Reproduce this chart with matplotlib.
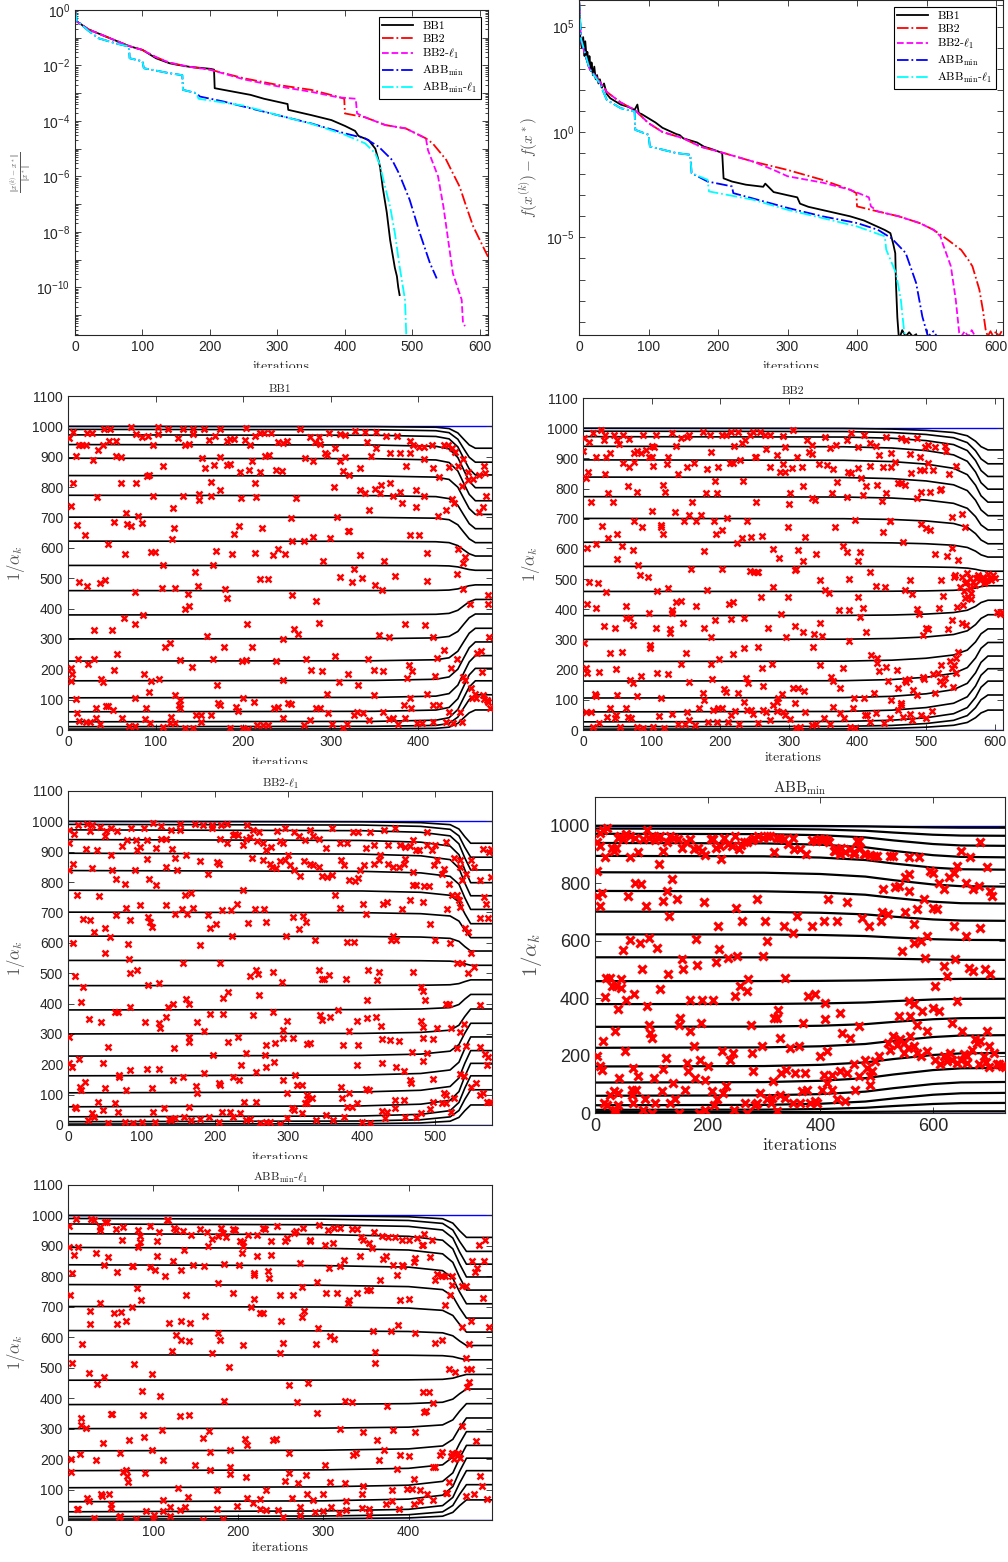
import numpy as np
import matplotlib.pyplot as plt
from matplotlib.ticker import LogLocator, NullFormatter
from matplotlib.transforms import Bbox, TransformedBbox

plt.rcParams['font.family'] = 'Liberation Sans'
plt.rcParams['mathtext.fontset'] = 'cm'

# ---------------- top row: convergence histories (log10 of the values) ----------------
err_bb1_x = [0, 2, 20, 40, 60, 80, 100, 120, 140, 150, 170, 200, 206, 207, 260, 280, 315, 316, 350, 380,
             400, 415, 420, 435, 445, 449, 452, 456, 462, 467, 474, 477, 479, 481]
err_bb1_e = [0, -0.4, -0.7, -0.9, -1.1, -1.3, -1.44, -1.74, -1.92, -1.97, -2.05, -2.12, -2.15, -2.82, -3.06,
             -3.2, -3.39, -3.6, -3.79, -3.97, -4.18, -4.36, -4.54, -4.69, -5.0, -5.35, -5.65, -6.4, -7.3, -8.3,
             -9.3, -9.6, -10.0, -10.28]
err_bb2_x = [0, 2, 20, 40, 60, 80, 100, 120, 140, 170, 200, 250, 300, 350, 390, 399, 400, 430, 460, 490, 500,
             520, 530, 550, 560, 570, 580, 590, 600, 612]
err_bb2_e = [0, -0.4, -0.7, -0.9, -1.1, -1.3, -1.44, -1.7, -1.9, -2.05, -2.15, -2.46, -2.7, -2.88, -3.13, -3.2,
             -3.73, -3.87, -4.15, -4.27, -4.39, -4.63, -4.81, -5.4, -5.89, -6.37, -7.1, -7.8, -8.3, -8.9]
err_bb2l1_x = [0, 2, 20, 40, 60, 80, 100, 120, 140, 170, 200, 250, 300, 350, 390, 416, 418, 430, 460, 490,
               500, 520, 523, 538, 546, 553, 560, 573, 575, 578]
err_bb2l1_e = [0, -0.4, -0.7, -0.9, -1.1, -1.3, -1.44, -1.7, -1.9, -2.05, -2.15, -2.5, -2.75, -2.95, -3.15,
               -3.2, -3.73, -3.87, -4.15, -4.27, -4.39, -4.63, -5.05, -6.0, -7.1, -8.3, -9.5, -10.45, -11.3, -11.4]
err_abb_x = [0, 3, 20, 35, 60, 80, 81, 100, 102, 140, 159, 160, 180, 185, 220, 300, 350, 400, 430, 450, 470,
             480, 496, 511, 526, 536]
err_abb_e = [0, -0.4, -0.75, -1.02, -1.2, -1.32, -1.74, -1.85, -2.1, -2.28, -2.35, -2.88, -3.0, -3.12, -3.3,
             -3.79, -4.09, -4.45, -4.63, -4.93, -5.41, -5.89, -6.85, -8.05, -9.13, -9.68]
err_abbl1_x = [0, 3, 20, 35, 60, 80, 81, 100, 102, 140, 159, 160, 180, 183, 250, 300, 350, 400, 430, 445, 452,
               457, 467, 474, 481, 489, 491]
err_abbl1_e = [0, -0.4, -0.75, -1.02, -1.2, -1.32, -1.74, -1.85, -2.1, -2.28, -2.35, -2.88, -3.0, -3.2, -3.45,
               -3.79, -4.1, -4.5, -4.81, -5.17, -5.6, -6.13, -7.1, -8.05, -9.25, -10.45, -11.8]

f_bb1_x = [0, 2, 4, 6, 8, 9, 11, 12, 14, 15, 17, 18, 20, 22, 24, 26, 28, 30, 33, 36, 40, 45, 50, 60, 70, 80,
           84, 86, 90, 100, 110, 120, 130, 140, 145, 150, 160, 170, 180, 190, 200, 206, 208, 220, 240, 265, 268,
           280, 300, 314, 318, 330, 350, 370, 390, 410, 430, 440, 448, 452, 455, 456, 458, 460, 462, 465, 470,
           475, 480, 485]
f_bb1_e = [6.3, 4.4, 4.0, 4.5, 3.6, 4.3, 3.5, 3.8, 3.2, 3.6, 2.9, 3.3, 2.7, 3.1, 2.5, 2.7, 2.3, 2.5, 2.1, 2.3,
           1.8, 1.6, 1.5, 1.3, 1.2, 1.05, 1.3, 0.9, 0.85, 0.65, 0.45, 0.2, 0.05, -0.1, -0.15, -0.3, -0.4, -0.5,
           -0.7, -0.8, -0.92, -1.0, -2.2, -2.35, -2.5, -2.6, -2.45, -2.85, -3.0, -3.1, -3.4, -3.55, -3.7, -3.85,
           -4.0, -4.2, -4.5, -4.65, -4.8, -5.3, -5.75, -7.2, -8.8, -9.7, -9.7, -9.4, -9.7, -9.5, -9.7, -9.6]
f_bb2_x = [0, 3, 15, 25, 40, 60, 80, 100, 120, 150, 175, 200, 250, 300, 350, 390, 399, 400, 430, 460, 490, 510,
           530, 550, 560, 566, 576, 581, 585, 588, 592, 596, 600, 604, 608]
f_bb2_e = [6.3, 4.3, 3.0, 2.6, 1.9, 1.4, 1.05, 0.42, 0.0, -0.3, -0.7, -0.92, -1.4, -1.8, -2.27, -2.74, -2.9,
           -3.53, -3.77, -4.0, -4.32, -4.64, -5.1, -5.6, -6.06, -6.37, -7.48, -8.43, -9.37, -9.7, -9.45, -9.7,
           -9.45, -9.7, -9.45]
f_bb2l1_x = [0, 3, 15, 25, 40, 60, 80, 100, 120, 150, 175, 200, 250, 280, 300, 350, 390, 417, 420, 430, 460,
             490, 510, 520, 523, 535, 542, 547, 550, 555, 560, 565, 570]
f_bb2l1_e = [6.3, 4.3, 3.0, 2.6, 1.9, 1.4, 1.05, 0.42, 0.0, -0.3, -0.7, -0.92, -1.4, -1.8, -2.1, -2.4, -2.74,
             -3.1, -3.53, -3.77, -4.0, -4.32, -4.64, -4.95, -5.27, -6.37, -7.95, -9.53, -9.7, -9.45, -9.7, -9.4,
             -9.7]
f_abb_x = [0, 3, 15, 30, 40, 60, 80, 81, 100, 102, 140, 160, 162, 185, 220, 222, 300, 350, 400, 430, 450, 470,
           485, 494, 502, 510, 515]
f_abb_e = [6.3, 4.4, 3.0, 2.3, 1.52, 1.13, 0.97, 0.1, -0.13, -0.69, -1.0, -1.08, -1.95, -2.35, -2.58, -2.9,
           -3.6, -4.0, -4.32, -4.64, -5.05, -5.74, -7.16, -8.76, -9.7, -9.45, -9.7]
f_abbl1_x = [0, 3, 15, 30, 40, 60, 80, 81, 100, 102, 140, 160, 162, 185, 187, 250, 300, 350, 400, 440, 442,
             456, 463, 468, 471]
f_abbl1_e = [6.3, 4.4, 3.0, 2.3, 1.52, 1.13, 0.97, 0.1, -0.13, -0.69, -1.0, -1.08, -1.95, -2.27, -2.82, -3.21,
             -3.69, -4.08, -4.48, -4.95, -5.58, -6.69, -7.95, -9.53, -9.7]

# ---------------- Ritz-like level lines ----------------
levels_start = [1000, 990, 972, 940, 895, 838, 773, 701, 622, 542, 459, 379, 300, 227, 162, 106, 60, 27, 11, 3]
levels_end = [928, 882, 840, 798, 755, 710, 663, 617, 573, 526, 478, 430, 382, 335, 290, 245, 203, 162, 116, 66]
levels_end_abb = [993, 965, 930, 890, 847, 788, 729, 669, 602, 533, 467, 398, 331, 271, 209, 157, 108, 70, 35, 6]

# progress of the level shift along the iterations (0 = start level, 1 = end level)
prog_bb1_x = [0, 350, 420, 435, 445, 452, 458, 465, 484]
prog_bb1_f = [0, 0.01, 0.04, 0.1, 0.3, 0.6, 0.85, 1, 1]
prog_bb2_x = [0, 380, 450, 500, 540, 560, 572, 580, 590, 612]
prog_bb2_f = [0, 0.01, 0.04, 0.1, 0.2, 0.35, 0.6, 0.85, 1, 1]
prog_bb2l1_x = [0, 400, 480, 520, 532, 540, 548, 577]
prog_bb2l1_f = [0, 0.02, 0.06, 0.15, 0.35, 0.7, 1, 1]
prog_abb_x = [0, 300, 400, 480, 530, 600, 650, 728]
prog_abb_f = [0, 0.03, 0.12, 0.3, 0.55, 0.85, 0.97, 1.0]
prog_abbl1_x = [0, 300, 400, 440, 452, 460, 468, 498]
prog_abbl1_f = [0, 0.02, 0.06, 0.15, 0.35, 0.7, 1, 1]

# ---------------- 1/alpha_k per iteration (iteration, value) ----------------
bb1_pts = [
    (48, 991), (41, 991), (72, 997), (103, 997), (114, 991), (131, 991), (143, 991), (155, 991), (203, 994),
    (265, 991), (328, 986), (339, 982), (352, 982), (6, 980), (22, 978), (27, 978), (103, 975), (173, 991),
    (219, 978), (232, 978), (298, 978), (310, 975), (316, 970), (1, 961), (55, 953), (78, 975), (85, 964),
    (91, 969), (97, 939), (13, 939), (16, 939), (20, 937), (40, 939), (47, 953), (125, 961), (133, 939),
    (138, 942), (143, 975), (161, 955), (168, 969), (181, 953), (185, 958), (190, 958), (202, 955), (208, 939),
    (214, 969), (224, 978), (240, 947), (245, 945), (250, 953), (276, 964), (282, 947), (287, 964), (288, 942),
    (305, 928), (341, 947), (352, 928), (363, 969), (375, 969), (390, 953), (394, 937), (401, 931), (406, 931),
    (416, 939), (429, 937), (434, 939), (438, 928), (442, 915), (9, 904), (29, 889), (34, 923), (55, 901),
    (61, 898), (90, 838), (92, 841), (109, 869), (153, 895), (156, 862), (167, 873), (174, 898), (181, 874),
    (185, 876), (196, 851), (207, 857), (210, 887), (219, 851), (225, 901), (230, 907), (237, 857), (270, 895),
    (280, 887), (293, 912), (296, 907), (310, 886), (314, 854), (316, 900), (321, 840), (333, 863), (346, 904),
    (368, 912), (379, 911), (386, 871), (390, 911), (406, 893), (417, 863), (424, 832), (435, 867), (445, 868),
    (451, 893), (457, 849), (462, 827), (469, 840), (475, 868), (476, 846), (3, 739), (6, 814), (33, 766),
    (60, 814), (66, 715), (67, 679), (72, 671), (78, 814), (80, 706), (84, 681), (97, 772), (120, 731),
    (121, 665), (131, 772), (150, 756), (150, 778), (163, 816), (163, 772), (173, 792), (189, 644), (195, 671),
    (197, 765), (213, 814), (215, 767), (221, 665), (244, 854), (254, 698), (260, 765), (304, 800), (307, 703),
    (321, 654), (333, 792), (339, 781), (344, 723), (350, 794), (356, 782), (357, 807), (368, 814), (371, 772),
    (379, 783), (381, 748), (397, 734), (397, 792), (406, 772), (422, 704), (432, 723), (438, 761), (441, 748),
    (450, 803), (457, 825), (469, 717), (474, 734), (477, 770), (10, 676), (19, 643), (46, 613), (53, 685),
    (65, 580), (95, 586), (99, 586), (108, 545), (119, 630), (166, 544), (169, 591), (187, 580), (213, 584),
    (219, 496), (228, 496), (234, 575), (240, 595), (248, 580), (256, 624), (269, 621), (280, 637), (291, 557),
    (299, 632), (311, 504), (320, 654), (324, 487), (327, 531), (333, 577), (336, 500), (361, 558), (373, 506),
    (390, 643), (401, 643), (410, 584), (410, 490), (445, 597), (444, 513), (451, 551), (453, 570), (13, 487),
    (22, 473), (36, 485), (42, 493), (64, 369), (76, 348), (77, 455), (86, 380), (30, 329), (50, 329),
    (107, 469), (122, 468), (133, 398), (138, 407), (137, 449), (145, 520), (148, 474), (159, 310), (179, 465),
    (182, 435), (204, 350), (245, 301), (256, 446), (258, 332), (262, 315), (283, 425), (286, 354), (350, 479),
    (355, 312), (358, 460), (366, 307), (385, 350), (408, 345), (417, 307), (451, 465), (459, 416), (480, 444),
    (479, 416), (481, 307), (3, 203), (5, 183), (3, 161), (9, 102), (11, 233), (23, 219), (30, 233), (38, 168),
    (40, 159), (52, 197), (56, 249), (76, 104), (87, 186), (93, 126), (95, 161), (104, 169), (111, 274),
    (116, 285), (122, 115), (128, 99), (128, 230), (141, 208), (166, 233), (170, 148), (178, 274), (199, 227),
    (203, 230), (200, 106), (210, 274), (212, 93), (237, 227), (245, 164), (272, 233), (277, 197), (290, 194),
    (296, 120), (305, 244), (309, 159), (320, 186), (331, 148), (343, 233), (349, 197), (349, 115), (360, 194),
    (387, 170), (389, 214), (393, 194), (390, 104), (410, 120), (421, 238), (419, 179), (429, 263), (437, 203),
    (444, 235), (451, 175), (453, 164), (460, 137), (465, 120), (467, 252), (471, 260), (473, 192), (474, 115),
    (475, 102), (480, 91), (10, 55), (13, 30), (21, 27), (25, 27), (32, 71), (32, 38), (37, 19), (43, 80),
    (46, 80), (51, 66), (62, 38), (70, 14), (76, 14), (88, 36), (89, 71), (94, 22), (109, 11), (116, 22),
    (118, 44), (122, 22), (128, 71), (127, 82), (134, 5), (143, 8), (152, 27), (146, 51), (152, 51), (163, 51),
    (171, 88), (174, 82), (185, 8), (192, 77), (194, 62), (200, 8), (206, 3), (216, 16), (223, 16), (228, 16),
    (235, 71), (240, 77), (245, 38), (251, 88), (254, 84), (269, 16), (276, 33), (283, 71), (288, 71), (297, 55),
    (301, 19), (314, 5), (318, 19), (326, 49), (330, 60), (337, 55), (344, 33), (360, 60), (366, 36), (371, 38),
    (377, 19), (383, 82), (385, 38), (392, 71), (398, 22), (404, 22), (417, 82), (417, 27), (424, 82), (432, 27),
    (435, 60), (440, 22), (448, 60), (450, 27), (461, 104), (466, 104), (478, 99), (482, 71)]

bb2_pts = [
    (0, 925), (2, 969), (9, 953), (15, 983), (26, 994), (32, 978), (30, 961), (45, 978), (49, 961), (53, 947),
    (59, 978), (67, 963), (79, 923), (74, 917), (87, 978), (92, 928), (96, 906), (101, 941), (104, 936),
    (107, 978), (124, 906), (129, 983), (135, 941), (143, 969), (151, 972), (155, 978), (175, 989), (185, 978),
    (186, 920), (202, 978), (209, 978), (215, 987), (219, 886), (226, 987), (220, 941), (231, 950), (236, 961),
    (243, 978), (248, 987), (250, 903), (258, 987), (265, 978), (266, 932), (272, 976), (282, 911), (292, 975),
    (295, 939), (306, 994), (312, 903), (326, 961), (329, 920), (333, 945), (334, 914), (352, 972), (360, 934),
    (369, 945), (384, 961), (391, 983), (400, 936), (410, 978), (418, 950), (427, 941), (432, 911), (441, 972),
    (449, 917), (464, 967), (470, 961), (486, 967), (491, 903), (498, 939), (503, 945), (513, 939), (527, 941),
    (529, 925), (7, 856), (19, 906), (33, 906), (32, 848), (39, 917), (59, 884), (67, 870), (74, 887),
    (85, 917), (100, 906), (102, 876), (122, 881), (138, 848), (151, 873), (162, 884), (180, 864), (197, 870),
    (214, 884), (229, 895), (252, 903), (272, 873), (287, 854), (292, 881), (305, 867), (319, 871), (344, 881),
    (355, 878), (364, 865), (386, 854), (391, 851), (401, 867), (405, 834), (418, 876), (429, 812), (437, 870),
    (449, 870), (454, 887), (464, 818), (477, 914), (478, 851), (491, 862), (497, 862), (503, 884), (510, 862),
    (522, 799), (534, 848), (543, 876), (4, 836), (12, 757), (36, 784), (43, 754), (66, 810), (79, 790),
    (74, 691), (86, 674), (100, 724), (117, 812), (120, 788), (134, 722), (147, 693), (155, 711), (159, 757),
    (165, 693), (172, 713), (179, 785), (191, 691), (195, 785), (192, 825), (210, 704), (233, 825), (239, 691),
    (252, 757), (294, 854), (300, 748), (301, 785), (320, 810), (333, 768), (338, 761), (363, 785), (370, 821),
    (384, 773), (397, 696), (408, 779), (413, 809), (436, 759), (442, 785), (448, 691), (459, 818), (469, 812),
    (486, 768), (493, 790), (505, 790), (520, 796), (538, 707), (552, 715), (556, 674), (6, 602), (9, 490),
    (19, 615), (27, 677), (36, 635), (50, 649), (57, 611), (50, 566), (73, 597), (80, 547), (83, 514),
    (95, 508), (113, 680), (114, 671), (117, 649), (177, 593), (194, 649), (202, 663), (202, 533), (224, 619),
    (231, 635), (245, 638), (244, 527), (255, 525), (261, 643), (277, 599), (286, 569), (299, 671), (311, 533),
    (313, 597), (320, 561), (324, 638), (340, 582), (345, 497), (367, 674), (379, 608), (385, 591), (387, 501),
    (401, 560), (404, 591), (418, 525), (427, 477), (437, 657), (447, 691), (466, 624), (476, 497), (492, 682),
    (500, 669), (505, 663), (513, 582), (522, 497), (530, 575), (537, 604), (542, 514), (547, 564), (552, 508),
    (556, 486), (549, 475), (559, 519), (564, 503), (569, 492), (573, 503), (578, 497), (583, 508), (588, 497),
    (593, 503), (597, 514), (585, 486), (571, 481), (564, 470), (566, 453), (561, 442), (566, 434), (556, 436),
    (553, 414), (545, 409), (600, 505), (590, 516), (576, 514), (559, 492), (555, 459), (580, 500), (586, 493),
    (575, 507), (595, 497), (603, 390), (607, 383), (610, 390), (6, 417), (22, 488), (19, 403), (33, 456),
    (31, 346), (46, 337), (63, 412), (63, 370), (69, 372), (73, 348), (96, 387), (108, 459), (107, 337),
    (124, 470), (129, 387), (130, 398), (136, 425), (143, 429), (146, 354), (157, 534), (164, 412), (176, 339),
    (181, 464), (192, 365), (186, 309), (213, 417), (215, 368), (219, 423), (234, 372), (249, 525), (254, 523),
    (260, 440), (270, 337), (277, 475), (289, 383), (296, 309), (299, 442), (309, 530), (309, 343), (320, 324),
    (336, 317), (335, 276), (345, 354), (348, 313), (352, 464), (359, 453), (373, 398), (388, 295), (388, 398),
    (401, 442), (404, 376), (408, 403), (413, 326), (440, 474), (469, 464), (479, 450), (486, 401), (490, 383),
    (495, 315), (500, 337), (503, 334), (519, 403), (524, 445), (532, 334), (537, 365), (552, 354), (558, 348),
    (541, 508), (2, 287), (4, 207), (6, 190), (17, 118), (19, 114), (23, 193), (39, 254), (48, 202), (50, 116),
    (57, 260), (69, 166), (73, 155), (79, 114), (85, 179), (97, 271), (98, 282), (108, 188), (114, 107),
    (124, 185), (127, 320), (127, 335), (143, 218), (150, 254), (155, 160), (175, 122), (177, 99), (187, 218),
    (188, 169), (198, 235), (205, 136), (208, 127), (219, 251), (226, 122), (234, 271), (238, 173), (240, 155),
    (255, 274), (261, 204), (263, 146), (275, 218), (277, 83), (282, 94), (284, 107), (290, 118), (306, 138),
    (309, 88), (314, 140), (322, 129), (345, 215), (362, 177), (364, 162), (374, 138), (379, 204), (395, 107),
    (409, 107), (419, 249), (424, 122), (428, 221), (429, 240), (432, 196), (442, 210), (444, 162), (449, 99),
    (457, 199), (459, 138), (463, 88), (469, 166), (471, 158), (475, 169), (481, 133), (486, 116), (495, 177),
    (497, 169), (510, 185), (513, 122), (517, 188), (520, 162), (522, 215), (525, 151), (528, 173), (535, 229),
    (537, 204), (540, 215), (544, 238), (546, 260), (539, 144), (544, 188), (4, 61), (11, 59), (14, 11),
    (24, 22), (35, 44), (39, 74), (46, 39), (48, 50), (54, 11), (62, 72), (66, 44), (70, 41), (78, 11), (88, 6),
    (102, 11), (111, 48), (118, 8), (130, 52), (138, 19), (148, 19), (151, 61), (155, 33), (163, 17), (169, 72),
    (182, 25), (190, 66), (195, 25), (197, 72), (202, 72), (211, 28), (215, 50), (221, 63), (227, 19), (234, 92),
    (239, 66), (245, 66), (248, 52), (255, 22), (262, 66), (267, 61), (273, 33), (282, 63), (292, 61), (295, 50),
    (301, 36), (310, 6), (316, 11), (323, 61), (333, 17), (340, 19), (351, 39), (360, 19), (364, 77), (375, 55),
    (381, 39), (389, 11), (393, 72), (397, 6), (411, 50), (414, 50), (418, 28), (427, 55), (438, 22), (447, 39),
    (459, 66), (464, 83), (467, 44), (477, 52), (480, 33), (492, 50), (500, 41), (509, 63)]

bb2l1_pts = [
    (1, 929), (1, 973), (8, 957), (14, 987), (26, 992), (30, 968), (32, 987), (44, 981), (52, 967), (51, 951),
    (59, 979), (67, 967), (74, 918), (80, 937), (86, 979), (92, 937), (98, 916), (104, 979), (107, 937),
    (115, 996), (120, 913), (127, 985), (127, 943), (134, 943), (140, 973), (141, 910), (152, 992), (152, 973),
    (173, 992), (184, 987), (196, 987), (196, 979), (208, 987), (216, 992), (207, 943), (217, 929), (224, 954),
    (227, 957), (232, 954), (238, 921), (242, 943), (244, 987), (248, 948), (252, 973), (257, 934), (260, 965),
    (265, 929), (270, 907), (276, 916), (284, 967), (289, 934), (295, 979), (292, 929), (300, 888), (308, 965),
    (315, 951), (323, 937), (329, 973), (334, 951), (341, 943), (351, 912), (359, 979), (370, 929), (380, 929),
    (388, 965), (395, 965), (405, 912), (411, 965), (416, 921), (425, 888), (430, 970), (436, 921), (445, 979),
    (452, 921), (459, 916), (466, 918), (470, 937), (473, 905), (477, 907), (489, 965), (489, 923), (495, 905),
    (500, 921), (514, 932), (2, 841), (7, 859), (33, 848), (24, 910), (39, 905), (58, 888), (60, 841), (65, 811),
    (77, 793), (91, 841), (94, 905), (107, 877), (110, 811), (120, 789), (133, 850), (145, 880), (148, 841),
    (160, 888), (179, 870), (191, 828), (203, 866), (205, 859), (251, 880), (265, 872), (275, 861), (278, 850),
    (283, 846), (288, 870), (295, 874), (302, 855), (307, 839), (316, 819), (321, 870), (330, 861), (334, 855),
    (342, 850), (345, 819), (352, 817), (359, 822), (372, 874), (375, 855), (383, 808), (390, 804), (395, 812),
    (398, 841), (403, 857), (416, 859), (423, 872), (436, 859), (442, 850), (450, 850), (457, 861), (459, 877),
    (470, 833), (473, 789), (484, 786), (491, 786), (498, 857), (502, 872), (509, 828), (511, 844), (518, 795),
    (525, 880), (533, 874), (534, 850), (536, 806), (541, 828), (548, 872), (552, 850), (561, 806), (565, 910),
    (575, 910), (573, 899), (575, 817), (12, 757), (30, 674), (21, 680), (35, 636), (42, 753), (51, 650),
    (66, 691), (79, 716), (82, 595), (85, 674), (98, 724), (109, 685), (112, 669), (114, 652), (133, 724),
    (145, 696), (155, 713), (159, 757), (162, 694), (167, 764), (170, 716), (179, 592), (190, 691), (193, 650),
    (202, 663), (210, 707), (222, 709), (223, 622), (230, 729), (238, 775), (245, 666), (254, 713), (267, 713),
    (270, 669), (297, 622), (306, 685), (314, 647), (320, 688), (324, 669), (336, 609), (364, 757), (370, 716),
    (380, 603), (389, 603), (402, 727), (406, 694), (429, 727), (434, 735), (439, 609), (442, 622), (447, 609),
    (455, 713), (465, 740), (470, 789), (483, 735), (493, 663), (500, 609), (516, 713), (520, 600), (523, 757),
    (529, 757), (532, 740), (534, 718), (540, 650), (544, 636), (561, 683), (566, 751), (569, 729), (572, 683),
    (7, 601), (9, 490), (18, 406), (21, 455), (51, 567), (57, 620), (83, 548), (84, 502), (94, 510), (109, 461),
    (124, 469), (136, 387), (143, 400), (156, 534), (161, 414), (164, 400), (207, 534), (211, 417), (218, 439),
    (247, 490), (256, 512), (258, 497), (260, 428), (279, 504), (291, 471), (341, 512), (345, 482), (349, 480),
    (355, 493), (378, 482), (408, 510), (420, 479), (423, 504), (407, 413), (470, 504), (480, 455), (483, 442),
    (486, 413), (514, 400), (518, 400), (530, 534), (536, 534), (544, 499), (548, 565), (552, 521), (560, 394),
    (2, 291), (29, 348), (45, 340), (55, 258), (64, 373), (68, 373), (84, 389), (105, 340), (124, 337),
    (125, 320), (134, 356), (144, 252), (164, 291), (165, 274), (176, 340), (185, 310), (193, 367), (198, 230),
    (211, 367), (218, 274), (232, 291), (242, 236), (252, 362), (268, 232), (270, 265), (279, 373), (282, 271),
    (298, 343), (293, 312), (292, 285), (306, 285), (325, 266), (330, 271), (343, 362), (345, 345), (356, 356),
    (367, 378), (374, 263), (383, 310), (393, 343), (394, 263), (407, 351), (419, 356), (426, 326), (427, 282),
    (438, 280), (450, 277), (468, 241), (480, 343), (483, 323), (483, 285), (488, 238), (497, 282), (502, 318),
    (521, 318), (533, 307), (539, 334), (529, 252), (541, 260), (560, 258), (568, 234), (571, 225), (2, 205),
    (5, 192), (15, 216), (16, 126), (18, 115), (23, 143), (47, 203), (51, 121), (70, 164), (70, 157), (79, 115),
    (84, 181), (107, 186), (114, 121), (124, 186), (143, 148), (156, 159), (174, 128), (175, 104), (185, 170),
    (205, 137), (207, 132), (225, 157), (233, 148), (235, 197), (256, 175), (270, 192), (280, 208), (293, 148),
    (298, 104), (309, 164), (312, 132), (318, 132), (325, 99), (327, 90), (332, 88), (373, 88), (371, 126),
    (382, 104), (393, 197), (406, 117), (409, 115), (427, 205), (447, 192), (457, 178), (465, 148), (467, 137),
    (483, 212), (497, 150), (511, 104), (515, 99), (533, 168), (539, 161), (548, 126), (555, 137), (560, 99),
    (570, 197), (565, 104), (570, 77), (574, 77), (10, 60), (11, 55), (27, 16), (33, 38), (36, 27), (41, 77),
    (47, 49), (55, 5), (64, 73), (68, 44), (77, 11), (89, 8), (101, 11), (115, 44), (118, 11), (130, 55),
    (138, 19), (140, 16), (145, 22), (158, 27), (164, 58), (168, 16), (180, 19), (192, 27), (205, 11), (210, 44),
    (220, 44), (225, 27), (234, 38), (239, 77), (242, 16), (248, 19), (256, 77), (261, 8), (270, 11), (275, 11),
    (289, 3), (298, 22), (305, 55), (308, 49), (318, 38), (323, 71), (325, 71), (338, 16), (351, 33), (361, 16),
    (375, 27), (380, 60), (386, 58), (393, 71), (400, 11), (411, 5), (427, 47), (434, 44), (432, 22), (445, 82),
    (445, 55), (457, 82), (459, 27), (473, 27), (480, 38), (493, 52), (497, 77), (509, 73), (514, 71), (521, 44),
    (525, 88)]

abb_pts = [
    (3, 942), (8, 930), (9, 974), (15, 986), (21, 991), (18, 890), (30, 924), (34, 913), (37, 921), (40, 956),
    (44, 965), (49, 953), (55, 971), (62, 965), (71, 959), (77, 909), (86, 953), (92, 986), (95, 956),
    (101, 965), (107, 950), (111, 959), (116, 965), (121, 913), (127, 944), (133, 965), (140, 959), (148, 953),
    (154, 924), (162, 944), (169, 953), (175, 919), (182, 921), (190, 913), (196, 898), (206, 953), (210, 953),
    (215, 921), (222, 930), (229, 959), (237, 936), (243, 930), (249, 965), (255, 919), (259, 933), (264, 944),
    (270, 942), (278, 951), (283, 956), (290, 965), (299, 959), (305, 965), (311, 965), (318, 907), (323, 959),
    (329, 956), (335, 953), (342, 936), (351, 959), (354, 919), (364, 919), (375, 901), (385, 951), (393, 948),
    (400, 953), (406, 953), (415, 944), (424, 913), (430, 919), (437, 921), (444, 907), (453, 919), (460, 901),
    (466, 948), (471, 924), (480, 901), (489, 898), (501, 895), (529, 893), (557, 890), (412, 949), (468, 948),
    (427, 913), (435, 901), (459, 907), (477, 901), (495, 895), (524, 895), (575, 890), (649, 913), (666, 890),
    (684, 944), (696, 855), (643, 860), (595, 843), (601, 837), (628, 820), (637, 837), (658, 802), (672, 779),
    (681, 791), (702, 773), (705, 756), (619, 779), (610, 802), (557, 831), (551, 820), (557, 773), (512, 779),
    (533, 785), (539, 791), (584, 744), (601, 715), (607, 709), (572, 709), (566, 657), (551, 698), (521, 692),
    (507, 669), (486, 651), (474, 680), (447, 733), (413, 744), (407, 669), (430, 669), (509, 698), (589, 616),
    (637, 651), (658, 616), (684, 645), (545, 564), (578, 599), (566, 593), (640, 535), (664, 506), (672, 494),
    (693, 500), (702, 483), (619, 512), (625, 477), (604, 442), (586, 541), (557, 390), (566, 378), (580, 355),
    (601, 366), (610, 355), (643, 390), (539, 337), (560, 337), (572, 308), (634, 314), (435, 349), (409, 326),
    (438, 279), (453, 262), (468, 302), (530, 267), (542, 256), (560, 267), (589, 285), (652, 285), (696, 285),
    (684, 250), (675, 256), (619, 198), (634, 186), (649, 186), (660, 198), (669, 221), (678, 244), (690, 198),
    (699, 233), (708, 209), (723, 165), (714, 169), (681, 169), (660, 174), (643, 174), (625, 180), (613, 169),
    (604, 186), (578, 198), (572, 209), (566, 233), (548, 209), (548, 244), (536, 238), (524, 221), (521, 244),
    (504, 198), (498, 180), (483, 157), (468, 128), (489, 128), (492, 145), (480, 186), (459, 169), (447, 140),
    (435, 145), (421, 134), (412, 105), (421, 81), (430, 47), (444, 41), (462, 81), (489, 99), (695, 176),
    (700, 160), (717, 170), (728, 160), (655, 205), (630, 210), (590, 215), (555, 225), (3, 843), (4, 756),
    (8, 721), (12, 767), (3, 198), (9, 163), (12, 151), (15, 250), (16, 35), (21, 29), (18, 405), (20, 471),
    (27, 471), (27, 64), (33, 76), (36, 12), (36, 0), (41, 70), (40, 29), (43, 122), (36, 285), (37, 442),
    (31, 442), (46, 436), (41, 363), (46, 467), (49, 566), (53, 217), (55, 395), (59, 756), (62, 602), (63, 890),
    (65, 64), (65, 81), (67, 157), (68, 35), (69, 413), (71, 802), (72, 81), (77, 128), (80, 593), (81, 797),
    (83, 502), (86, 12), (89, 47), (90, 721), (92, 372), (95, 610), (96, 308), (98, 279), (101, 262), (104, 122),
    (107, 35), (110, 576), (113, 866), (116, 430), (119, 76), (121, 153), (121, 738), (126, 192), (127, 773),
    (130, 483), (132, 686), (134, 35), (136, 814), (139, 105), (142, 47), (145, 744), (150, 308), (151, 331),
    (154, 535), (157, 500), (160, 81), (163, 174), (166, 145), (168, 285), (169, 395), (175, 233), (178, 122),
    (180, 607), (181, 514), (187, 186), (188, 314), (190, 395), (193, 733), (196, 116), (201, 163), (207, 76),
    (210, 395), (215, 526), (217, 47), (219, 651), (221, 570), (223, 884), (225, 215), (227, 70), (233, 93),
    (237, 541), (239, 186), (245, 209), (249, 407), (251, 715), (253, 547), (258, 442), (261, 669), (267, 35),
    (270, 424), (272, 465), (277, 308), (279, 209), (281, 145), (284, 29), (287, 744), (293, 70), (296, 233),
    (299, 547), (302, 669), (305, 599), (312, 35), (314, 52), (316, 110), (317, 331), (323, 331), (325, 360),
    (329, 262), (330, 140), (335, 651), (338, 471), (339, 151), (347, 227), (351, 628), (355, 140), (358, 686),
    (363, 233), (370, 314), (372, 140), (376, 81), (379, 407), (385, 651), (391, 413), (394, 35), (399, 198),
    (403, 81), (406, 134), (409, 384), (412, 215), (101, 0), (150, 0), (196, 12), (211, 29), (246, 12),
    (270, 0), (287, 35), (305, 47), (323, 6), (338, 52), (352, 35), (364, 35), (382, 35), (391, 41), (367, 76),
    (329, 64), (184, 0)]

abbl1_pts = [
    (1, 965), (1, 897), (9, 989), (12, 897), (27, 989), (30, 985), (37, 952), (38, 962), (44, 978), (46, 978),
    (56, 956), (64, 919), (65, 963), (82, 952), (84, 934), (96, 965), (107, 945), (116, 984), (118, 984),
    (124, 959), (127, 952), (135, 948), (145, 937), (155, 954), (163, 945), (169, 924), (176, 934), (180, 959),
    (182, 943), (186, 930), (194, 954), (196, 952), (202, 915), (205, 912), (212, 937), (222, 937), (229, 959),
    (231, 954), (238, 915), (245, 965), (255, 915), (257, 926), (265, 943), (268, 948), (276, 959), (284, 915),
    (295, 970), (302, 904), (305, 952), (311, 910), (313, 959), (320, 959), (333, 956), (340, 956), (344, 930),
    (347, 919), (357, 893), (359, 945), (369, 934), (376, 930), (384, 930), (392, 921), (401, 919), (410, 926),
    (418, 940), (417, 904), (427, 918), (7, 871), (5, 811), (33, 877), (42, 838), (47, 864), (57, 814),
    (75, 833), (76, 833), (82, 897), (84, 912), (96, 831), (102, 820), (104, 866), (105, 915), (114, 800),
    (123, 849), (133, 822), (136, 886), (147, 838), (160, 833), (165, 901), (183, 842), (201, 838), (204, 877),
    (206, 899), (218, 811), (222, 866), (238, 871), (235, 819), (236, 795), (273, 844), (284, 919), (306, 827),
    (320, 833), (324, 853), (343, 868), (353, 908), (366, 789), (370, 857), (374, 866), (382, 838), (387, 805),
    (392, 838), (394, 833), (406, 846), (408, 860), (416, 904), (425, 864), (431, 789), (433, 809), (439, 802),
    (443, 802), (483, 904), (490, 919), (475, 849), (489, 849), (480, 827), (478, 813), (487, 729), (494, 635),
    (473, 652), (463, 635), (471, 577), (468, 531), (469, 495), (473, 495), (471, 454), (469, 437), (463, 308),
    (479, 259), (461, 204), (458, 220), (453, 201), (451, 220), (484, 146), (486, 113), (467, 80), (477, 86),
    (492, 69), (451, 802), (463, 767), (467, 767), (451, 773), (449, 740), (443, 707), (439, 591), (431, 582),
    (447, 495), (455, 487), (424, 419), (429, 385), (420, 358), (437, 212), (439, 223), (431, 174), (450, 209),
    (455, 218), (447, 124), (445, 88), (2, 740), (37, 714), (75, 701), (81, 762), (86, 723), (139, 740),
    (176, 778), (194, 747), (215, 701), (219, 725), (218, 805), (249, 740), (275, 764), (292, 780), (303, 747),
    (316, 747), (329, 712), (330, 723), (339, 747), (351, 754), (355, 754), (390, 723), (401, 725), (26, 685),
    (26, 643), (54, 679), (58, 643), (62, 682), (68, 655), (119, 648), (133, 654), (143, 646), (161, 670),
    (176, 613), (178, 591), (225, 679), (229, 679), (250, 654), (264, 740), (275, 666), (277, 685), (294, 630),
    (308, 604), (313, 595), (358, 621), (379, 621), (388, 641), (408, 615), (5, 516), (16, 578), (25, 484),
    (34, 445), (42, 468), (78, 512), (87, 423), (99, 479), (108, 407), (122, 555), (127, 608), (133, 591),
    (142, 588), (169, 549), (189, 503), (183, 391), (206, 575), (249, 549), (253, 582), (259, 443), (269, 386),
    (282, 451), (291, 577), (325, 390), (361, 553), (361, 516), (375, 375), (417, 419), (3, 201), (14, 218),
    (15, 335), (15, 311), (21, 302), (33, 198), (41, 253), (51, 347), (52, 349), (61, 221), (68, 163), (72, 262),
    (88, 344), (89, 273), (99, 231), (110, 295), (111, 196), (131, 342), (142, 344), (149, 179), (158, 270),
    (166, 292), (167, 223), (190, 231), (190, 174), (208, 267), (210, 245), (241, 262), (244, 265), (260, 221),
    (292, 352), (302, 182), (333, 388), (320, 300), (335, 215), (338, 220), (347, 289), (363, 264), (365, 196),
    (371, 231), (382, 295), (390, 212), (400, 209), (408, 289), (418, 355), (429, 174), (4, 157), (65, 157),
    (69, 143), (71, 126), (91, 154), (167, 163), (190, 152), (209, 141), (255, 127), (259, 155), (270, 121),
    (280, 148), (308, 124), (325, 121), (347, 113), (387, 168), (406, 135), (414, 99), (404, 102), (11, 36),
    (12, 36), (22, 73), (25, 64), (31, 7), (39, 86), (40, 80), (48, 84), (50, 51), (50, 40), (60, 9), (61, 14),
    (80, 3), (92, 31), (100, 3), (101, 18), (112, 31), (111, 66), (120, 42), (120, 14), (129, 105), (131, 33),
    (141, 75), (138, 42), (158, 0), (175, 97), (175, 36), (182, 3), (199, 47), (210, 73), (217, 55), (225, 69),
    (225, 36), (233, 97), (233, 33), (247, 33), (252, 9), (263, 73), (272, 42), (272, 18), (281, 86), (288, 66),
    (290, 25), (299, 84), (300, 29), (309, 42), (318, 22), (327, 64), (327, 33), (345, 86), (345, 40), (353, 36),
    (354, 18), (374, 53), (380, 97), (381, 64), (389, 36), (398, 102), (406, 53), (414, 62), (422, 86), (429, 66),
    (444, 89)]

# ---------------- figure ----------------
W, H = 1008, 1562
fig = plt.figure(figsize=(W / 100, H / 100), dpi=100)
GRAY = '#262626'
SERIF = 'cmr10'


def px_axes(left, top, right, bottom):
    return fig.add_axes([left / W, 1 - bottom / H, (right - left) / W, (bottom - top) / H])


def box_style(ax, size):
    ax.tick_params(which='both', direction='in', top=True, right=True, colors=GRAY,
                   labelsize=size, width=0.6)
    ax.tick_params(which='major', length=4)
    ax.tick_params(which='minor', length=2)
    for s in ax.spines.values():
        s.set_color(GRAY)
        s.set_linewidth(0.8)


def cut_label(ax, y_px):
    # the original panels were cropped right under the axis label
    lab = ax.xaxis.label
    lab.set_clip_on(True)
    lab.set_clip_box(TransformedBbox(Bbox([[0, 1 - y_px / H], [1, 1]]), fig.transFigure))


names = [r'BB1', r'BB2', r'BB2-$\ell_1$', r'ABB$_{\rm min}$', r'ABB$_{\rm min}$-$\ell_1$']
colors = ['black', 'red', 'magenta', 'blue', 'cyan']
styles = ['-', '-.', '--', '-.', '-.']

# top left
ax = px_axes(75, 10, 488, 335)
err_series = [(err_bb1_x, err_bb1_e), (err_bb2_x, err_bb2_e), (err_bb2l1_x, err_bb2l1_e),
              (err_abb_x, err_abb_e), (err_abbl1_x, err_abbl1_e)]
for (xs, es), c, ls, nm in zip(err_series, colors, styles, names):
    ax.semilogy(xs, 10.0 ** np.array(es), color=c, ls=ls, lw=1.3, label=nm)
ax.set_xlim(0, 612)
ax.set_ylim(10 ** -11.72, 1)
ax.set_xticks(range(0, 601, 100))
dec = list(range(-11, 1))
ax.set_yticks([10.0 ** k for k in dec],
              [r'$\mathdefault{10^{%d}}$' % k if k % 2 == 0 else '' for k in dec])
ax.yaxis.set_minor_locator(LogLocator(base=10, subs=np.arange(2, 10), numticks=100))
ax.yaxis.set_minor_formatter(NullFormatter())
box_style(ax, 10)
ax.set_ylabel(r'$\frac{\|x^{(k)}-x^*\|}{\|x^*\|}$', fontsize=8, color='#555555', labelpad=2)
ax.set_xlabel('iterations', family=SERIF, fontsize=10, color=GRAY, labelpad=5)
cut_label(ax, 368)
leg = ax.legend(loc='upper right', prop={'family': SERIF, 'size': 8.5}, fancybox=False,
                edgecolor='black', framealpha=1, handlelength=2.6, borderaxespad=0.6,
                labelspacing=0.25, borderpad=0.3)
leg.get_frame().set_linewidth(0.8)

# top right
ax = px_axes(579, 0, 1003, 335)
f_series = [(f_bb1_x, f_bb1_e), (f_bb2_x, f_bb2_e), (f_bb2l1_x, f_bb2l1_e),
            (f_abb_x, f_abb_e), (f_abbl1_x, f_abbl1_e)]
for (xs, es), c, ls, nm in zip(f_series, colors, styles, names):
    ax.semilogy(xs, 10.0 ** np.array(es), color=c, ls=ls, lw=1.3, label=nm)
ax.set_xlim(0, 610)
ax.set_ylim(10 ** -9.63, 10 ** 6.26)
ax.set_xticks(range(0, 601, 100))
ax.set_yticks([1e-5, 1, 1e5], [r'$\mathdefault{10^{-5}}$', r'$\mathdefault{10^{0}}$',
                               r'$\mathdefault{10^{5}}$'])
ax.set_yticks([10.0 ** k for k in range(-9, 7)], minor=True)
ax.yaxis.set_minor_formatter(NullFormatter())
box_style(ax, 10)
ax.tick_params(which='minor', length=4)
ax.set_ylabel(r'$f(x^{(k)}) - f(x^*)$', fontsize=11, color='#555555', labelpad=4)
ax.set_xlabel('iterations', family=SERIF, fontsize=10, color=GRAY, labelpad=5)
cut_label(ax, 368)
leg = ax.legend(loc='upper right', prop={'family': SERIF, 'size': 8.5}, fancybox=False,
                edgecolor='black', framealpha=1, handlelength=2.6, borderaxespad=0.6,
                labelspacing=0.25, borderpad=0.3)
leg.get_frame().set_linewidth(0.8)


def ritz_panel(rect, title, pts, prog_x, prog_f, ends, xmax, xticks, yticks, big=False, cut=None):
    ax = px_axes(*rect)
    ax.axhline(1000, color='blue', lw=1.0, zorder=1)
    ax.axhline(0, color='blue', lw=1.0, zorder=1)
    frac = np.array(prog_f)
    for s, e in zip(levels_start, ends):
        ax.plot(prog_x, s + frac * (e - s), color='black', lw=1.6 if big else 1.2, zorder=2)
    it, val = zip(*pts)
    ax.plot(it, val, ls='none', marker='x', color='red', ms=5.5 if big else 4.2,
            mew=2.3 if big else 1.8, zorder=3)
    ax.set_xlim(0, xmax)
    ax.set_ylim(0, 1100)
    ax.set_xticks(xticks)
    ax.set_yticks(yticks)
    box_style(ax, 13 if big else 10)
    ax.set_title(title, family=SERIF, fontsize=11 if big else 8.5, color=GRAY, pad=3)
    ax.set_ylabel(r'$1/\alpha_k$', fontsize=15 if big else 12, color='#555555', labelpad=4)
    ax.set_xlabel('iterations', family=SERIF, fontsize=13 if big else 10, color=GRAY,
                  labelpad=2 if cut is None else 6)
    if cut is not None:
        cut_label(ax, cut)
    return ax


ticks11 = list(range(0, 1101, 100))
ritz_panel((68, 396, 492, 730), 'BB1', bb1_pts, prog_bb1_x, prog_bb1_f, levels_end, 484,
           range(0, 401, 100), ticks11, cut=764)
ritz_panel((583, 398, 1003, 730), 'BB2', bb2_pts, prog_bb2_x, prog_bb2_f, levels_end, 612,
           range(0, 601, 100), ticks11)
ritz_panel((68, 791, 492, 1125), r'BB2-$\ell_1$', bb2l1_pts, prog_bb2l1_x, prog_bb2l1_f, levels_end, 577,
           range(0, 501, 100), ticks11, cut=1159)
ritz_panel((595, 797, 1005, 1113), r'ABB$_{\rm min}$', abb_pts, prog_abb_x, prog_abb_f, levels_end_abb, 728,
           range(0, 601, 200), range(0, 1001, 200), big=True)
ritz_panel((68, 1185, 492, 1520), r'ABB$_{\rm min}$-$\ell_1$', abbl1_pts, prog_abbl1_x, prog_abbl1_f,
           levels_end, 498, range(0, 401, 100), ticks11)

fig.savefig('out.png', dpi=100)
